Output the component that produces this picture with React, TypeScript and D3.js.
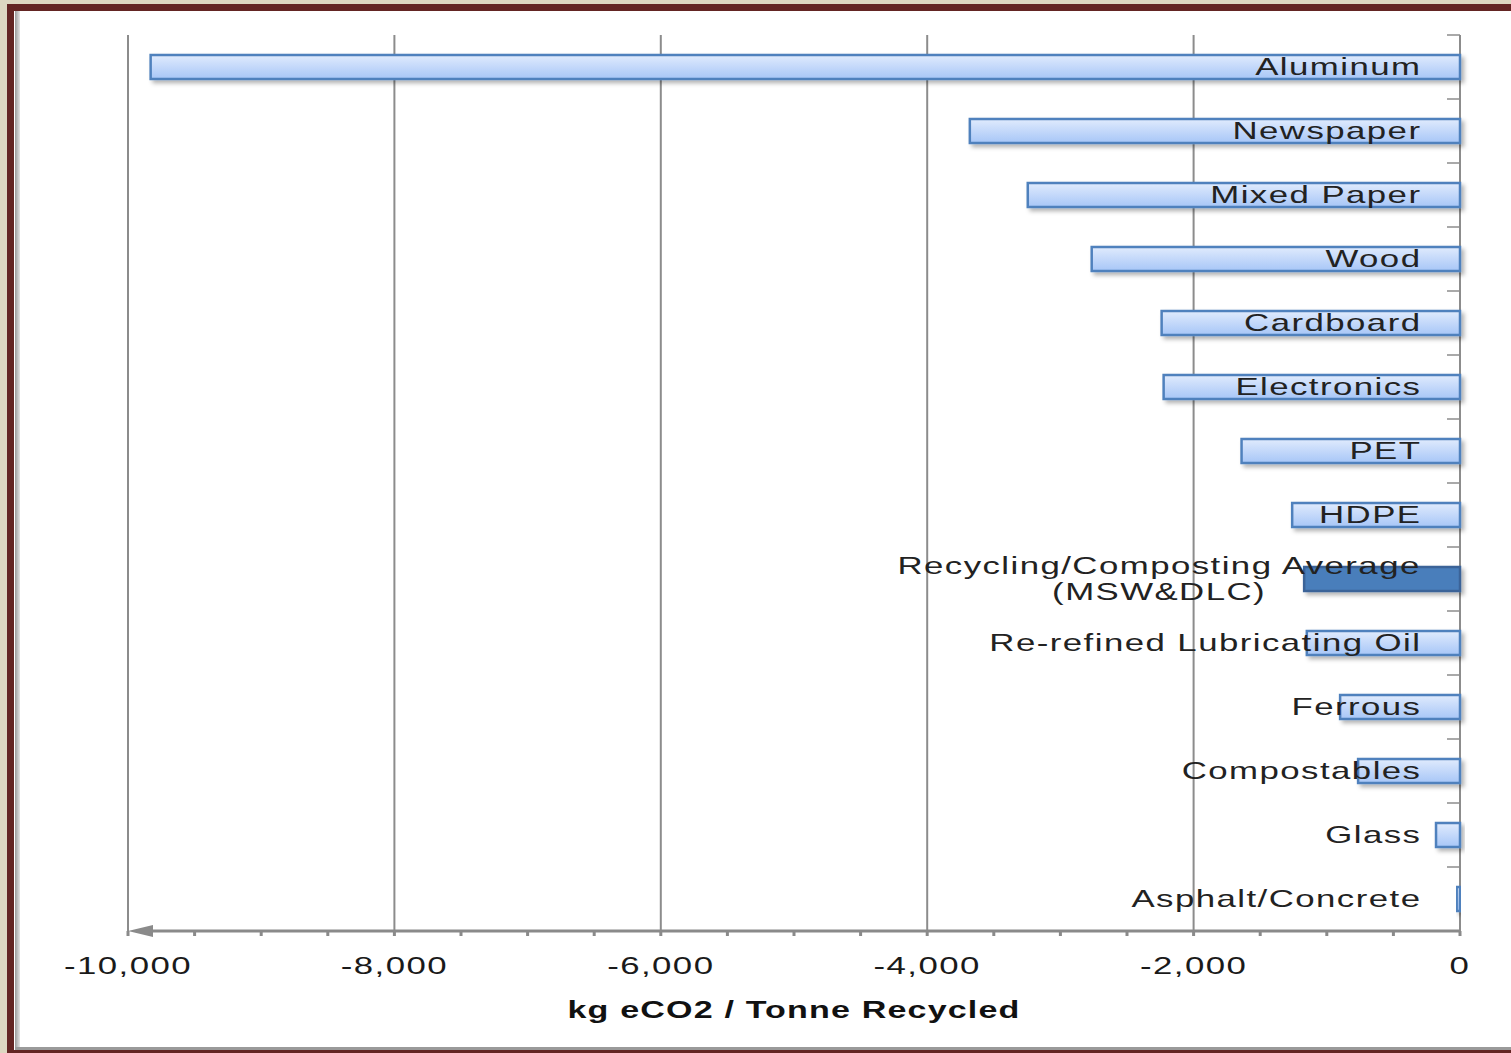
import React, { useEffect, useRef } from "react";
import * as d3 from "d3";

// Emissions avoided by recycling, kg eCO2 per tonne recycled
const categories = [
  "Aluminum",
  "Newspaper",
  "Mixed Paper",
  "Wood",
  "Cardboard",
  "Electronics",
  "PET",
  "HDPE",
  "Recycling/Composting Average\n(MSW&DLC)",
  "Re-refined Lubricating Oil",
  "Ferrous",
  "Compostables",
  "Glass",
  "Asphalt/Concrete",
];
const values = [
  -9830, -3680, -3245, -2765, -2240, -2225, -1640, -1260, -1170, -1150, -900, -765, -180, -25,
];
const highlighted = ["Recycling/Composting Average\n(MSW&DLC)"];
const xTicks = [-10000, -8000, -6000, -4000, -2000, 0];
const xTitle = "kg eCO2 / Tonne Recycled";

const W = 1511;
const H = 1053;
const FONT = "'Liberation Sans', Arial, sans-serif";
const SX = 1.45; // horizontal stretch of all text

export default function App() {
  const ref = useRef<SVGSVGElement | null>(null);

  useEffect(() => {
    const svg = d3.select(ref.current);
    svg.selectAll("*").remove();

    const defs = svg.append("defs");
    const grad = defs
      .append("linearGradient")
      .attr("id", "barFill")
      .attr("x1", 0)
      .attr("y1", 0)
      .attr("x2", 0)
      .attr("y2", 1);
    grad.append("stop").attr("offset", "0%").attr("stop-color", "#e0ebfd");
    grad.append("stop").attr("offset", "100%").attr("stop-color", "#a7c6f7");

    const leftGrad = defs
      .append("linearGradient")
      .attr("id", "edgeFill")
      .attr("x1", 0)
      .attr("x2", 1);
    leftGrad.append("stop").attr("offset", "0%").attr("stop-color", "#9a9a9a");
    leftGrad.append("stop").attr("offset", "100%").attr("stop-color", "#e4e4e4");

    const shadow = defs
      .append("filter")
      .attr("id", "shadow")
      .attr("x", "-10%")
      .attr("y", "-50%")
      .attr("width", "130%")
      .attr("height", "220%");
    shadow
      .append("feDropShadow")
      .attr("dx", 3)
      .attr("dy", 3)
      .attr("stdDeviation", 2)
      .attr("flood-color", "#000")
      .attr("flood-opacity", 0.3);

    // Frame
    svg.append("rect").attr("width", W).attr("height", H).attr("fill", "#ddd7c1");
    svg.append("rect").attr("x", 7).attr("y", 4).attr("width", W).attr("height", H - 4).attr("fill", "#632523");
    svg.append("rect").attr("x", 14).attr("y", 11).attr("width", W).attr("height", 1039).attr("fill", "#ffffff");
    svg.append("rect").attr("x", 15).attr("y", 11).attr("width", 5).attr("height", 1039).attr("fill", "url(#edgeFill)");
    svg.append("rect").attr("x", 15).attr("y", 1047).attr("width", W).attr("height", 3).attr("fill", "#9a9a9a");

    const x = d3.scaleLinear().domain([-10000, 0]).range([128, 1460]);
    const y = d3
      .scaleBand<string>()
      .domain(categories)
      .range([35, 931])
      .paddingInner(0.625)
      .paddingOuter(0.3125);
    const step = y.step();
    const top = 35;
    const bottom = 931;

    const fmt = d3
      .formatLocale({
        decimal: ".",
        thousands: ",",
        grouping: [3],
        currency: ["", ""],
        minus: "-",
      })
      .format(",");

    // Vertical gridlines
    svg
      .append("g")
      .selectAll("line")
      .data(xTicks.filter((t) => t !== 0))
      .join("line")
      .attr("x1", (d) => x(d))
      .attr("x2", (d) => x(d))
      .attr("y1", top)
      .attr("y2", bottom)
      .attr("stroke", "#8c8c8c")
      .attr("stroke-width", 2);

    // Category axis (at zero) with ticks between bands
    const yAxis = svg.append("g");
    yAxis
      .append("line")
      .attr("x1", x(0))
      .attr("x2", x(0))
      .attr("y1", top)
      .attr("y2", bottom)
      .attr("stroke", "#8c8c8c")
      .attr("stroke-width", 2);
    yAxis
      .selectAll("line.tick")
      .data(d3.range(categories.length + 1))
      .join("line")
      .attr("class", "tick")
      .attr("x1", x(0) - 13)
      .attr("x2", x(0))
      .attr("y1", (i) => top + i * step)
      .attr("y2", (i) => top + i * step)
      .attr("stroke", "#8c8c8c")
      .attr("stroke-width", 1.5);

    // Bars
    svg
      .append("g")
      .selectAll("rect")
      .data(categories)
      .join("rect")
      .attr("x", (c, i) => x(values[i]))
      .attr("y", (c) => y(c)!)
      .attr("width", (c, i) => x(0) - x(values[i]))
      .attr("height", y.bandwidth())
      .attr("fill", (c) => (highlighted.includes(c) ? "#4a7ebb" : "url(#barFill)"))
      .attr("stroke", (c) => (highlighted.includes(c) ? "#3b6498" : "#4f81bd"))
      .attr("stroke-width", 2.5)
      .attr("filter", "url(#shadow)");

    // Value axis
    const xAxis = svg.append("g");
    xAxis
      .append("line")
      .attr("x1", x(-10000) + 20)
      .attr("x2", x(0))
      .attr("y1", bottom)
      .attr("y2", bottom)
      .attr("stroke", "#8a8a8a")
      .attr("stroke-width", 3);
    xAxis
      .append("path")
      .attr(
        "d",
        `M${x(-10000)},${bottom} L${x(-10000) + 25},${bottom - 6} L${x(-10000) + 25},${bottom + 6} Z`
      )
      .attr("fill", "#8a8a8a");
    xAxis
      .selectAll("rect.minor")
      .data(d3.range(-10000, 1, 500))
      .join("rect")
      .attr("class", "minor")
      .attr("x", (d) => x(d) - 1.5)
      .attr("y", bottom)
      .attr("width", 3)
      .attr("height", 5)
      .attr("fill", "#8a8a8a");

    const stretched = (g: d3.Selection<any, any, any, any>, px: number, py: number) =>
      g.append("g").attr("transform", `translate(${px},${py}) scale(${SX},1)`);

    xTicks.forEach((t) => {
      stretched(svg, x(t), 974)
        .append("text")
        .attr("text-anchor", "middle")
        .attr("font-family", FONT)
        .attr("font-size", 24)
        .attr("letter-spacing", 1)
        .attr("fill", "#1a1a1a")
        .text(fmt(t));
    });

    stretched(svg, (x(-10000) + x(0)) / 2, 1018)
      .append("text")
      .attr("text-anchor", "middle")
      .attr("font-family", FONT)
      .attr("font-size", 23.5)
      .attr("letter-spacing", 0.8)
      .attr("font-weight", "bold")
      .attr("fill", "#111")
      .text(xTitle);

    // Data labels, right-aligned near the zero axis
    const labelRight = 1420;
    categories.forEach((c) => {
      const lines = c.split("\n");
      const cy = y(c)! + y.bandwidth() / 2;
      const lineH = 26;
      const g = stretched(svg, labelRight, 0);
      const texts = lines.map((ln, k) =>
        g
          .append("text")
          .attr("font-family", FONT)
          .attr("font-size", 24)
          .attr("letter-spacing", 1)
          .attr("fill", "#222")
          .attr("y", cy + 8.5 + (k - (lines.length - 1) / 2) * lineH)
          .text(ln)
      );
      if (lines.length === 1) {
        texts[0].attr("text-anchor", "end").attr("dx", 1);
      } else {
        const widths = texts.map((t) => (t.node() as SVGTextElement).getComputedTextLength());
        const maxW = Math.max(...widths);
        texts.forEach((t) => t.attr("text-anchor", "middle").attr("x", -maxW / 2 + 0.5));
      }
    });
  }, []);

  return (
    <svg
      ref={ref}
      width={W}
      height={H}
      style={{ position: "absolute", left: 0, top: 0, display: "block" }}
    />
  );
}
